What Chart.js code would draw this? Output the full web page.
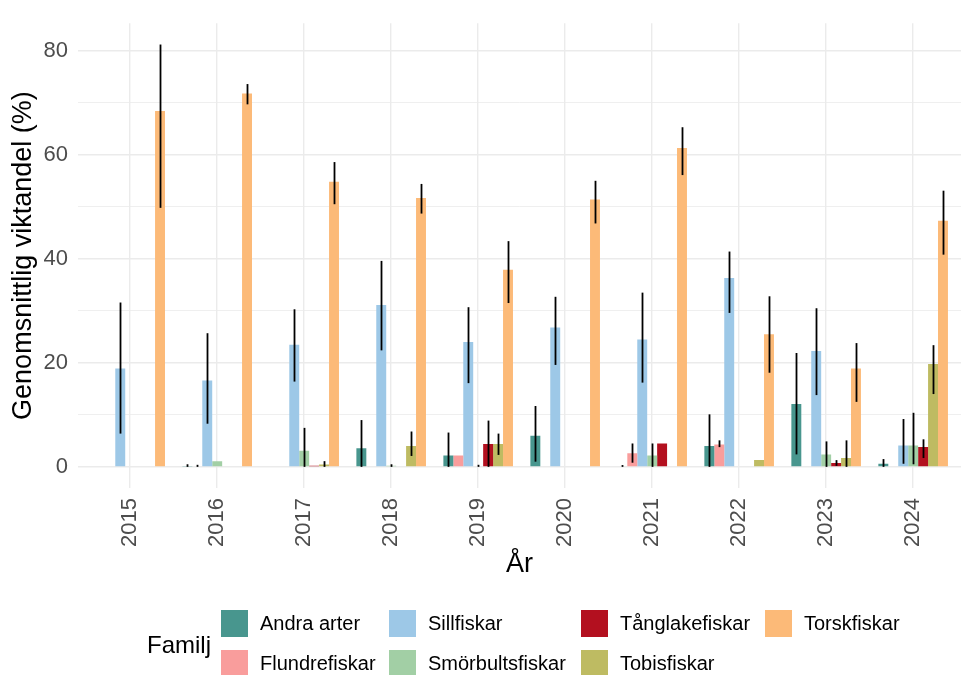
<!DOCTYPE html>
<html>
<head>
<meta charset="utf-8">
<script src="https://cdn.jsdelivr.net/npm/chart.js@4/dist/chart.umd.min.js"></script>
<style>
  html, body { margin: 0; padding: 0; background: #ffffff; }
  #wrap { position: relative; width: 961px; height: 675px; overflow: hidden;
          font-family: "Liberation Sans", Arial, sans-serif; }
  #chart { position: absolute; left: 0; top: 0; }
  #legend { position: absolute; left: 0; top: 0; width: 961px; height: 675px; pointer-events: none; }
  .lg-title { position: absolute; left: 147px; top: 645px; transform: translateY(-50%);
              font-size: 24px; color: #000; white-space: nowrap; }
  .lg-item { position: absolute; display: flex; align-items: center; white-space: nowrap; }
  .lg-box { width: 27px; height: 27px; margin-right: 12px; flex: none; }
  .lg-text { font-size: 20px; color: #000; }
</style>
</head>
<body>
<div id="wrap">
  <canvas id="chart" width="961" height="675"></canvas>
  <div id="legend"></div>
</div>
<script>
// Sampling years
const years = [2015, 2016, 2017, 2018, 2019, 2020, 2021, 2022, 2023, 2024];

// Fish families (legend order)
const families = ['Andra arter', 'Flundrefiskar', 'Sillfiskar', 'Smörbultsfiskar',
                  'Tånglakefiskar', 'Tobisfiskar', 'Torskfiskar'];
const familyColors = ['#48968E', '#F99D9C', '#9DC8E7', '#A2CFA5', '#B3101F', '#BEBB62', '#FCBA78'];

// Mean weight share (%) per year, with lower / upper error limits
const andraArter      = [null, 0.15, null, 3.6, 2.2, 6.0, 0.1, 4.0, 12.1, 0.6];
const andraArterLow   = [null, 0,    null, 0,   0,   1.0, 0,   0,   2.4,  0];
const andraArterHigh  = [null, 0.5,  null, 9.0, 6.6, 11.7, 0.35, 10.1, 21.9, 1.5];

const flundre         = [null, 0.1, null, null, 2.2, null, 2.6, 4.3, null, null];
const flundreLow      = [null, 0,   null, null, null, null, 0.8, 3.8, null, null];
const flundreHigh     = [null, 0.4, null, null, null, null, 4.5, 5.1, null, null];

const sill            = [18.9, 16.6, 23.5, 31.1, 24.0, 26.8, 24.5, 36.3, 22.3, 4.1];
const sillLow         = [6.4,  8.3,  16.4, 22.4, 16.1, 19.6, 16.2, 29.6, 13.8, 0.6];
const sillHigh        = [31.6, 25.7, 30.3, 39.6, 30.7, 32.7, 33.5, 41.4, 30.5, 9.2];

const smorbult        = [null, 1.1,  3.1, 0.2, 0.1, null, 2.2, null, 2.4, 4.1];
const smorbultLow     = [null, null, 0,   0,   0,   null, 0,   null, 0,   0.5];
const smorbultHigh    = [null, null, 7.5, 0.5, 0.4, null, 4.5, null, 4.9, 10.4];

const tanglake        = [null, null, 0.2, null, 4.4, null, 4.5, null, 0.75, 3.8];
const tanglakeLow     = [null, null, null, null, 0,   null, null, null, 0.2, 1.7];
const tanglakeHigh    = [null, null, null, null, 8.9, null, null, null, 1.3, 5.3];

const tobis           = [null, null, 0.45, 4.0, 4.4, null, null, 1.3, 1.7, 19.8];
const tobisLow        = [null, null, 0,    2.1, 2.3, null, null, null, 0,  14.0];
const tobisHigh       = [null, null, 1.1,  6.8, 6.4, null, null, null, 5.1, 23.4];

const torsk           = [68.4, 71.8, 54.8, 51.7, 37.9, 51.4, 61.3, 25.5, 18.9, 47.3];
const torskLow        = [49.8, 69.7, 50.5, 48.7, 31.5, 46.8, 56.1, 18.1, 12.5, 40.8];
const torskHigh       = [81.2, 73.6, 58.6, 54.4, 43.4, 55.0, 65.3, 32.8, 23.8, 53.1];

// Y axis ticks (labelled every 20, minor grid every 10)
const yTicks = [0, 10, 20, 30, 40, 50, 60, 70, 80];
const yLabelled = [0, 20, 40, 60, 80];

const seriesValues = [andraArter, flundre, sill, smorbult, tanglake, tobis, torsk];
const seriesLow    = [andraArterLow, flundreLow, sillLow, smorbultLow, tanglakeLow, tobisLow, torskLow];
const seriesHigh   = [andraArterHigh, flundreHigh, sillHigh, smorbultHigh, tanglakeHigh, tobisHigh, torskHigh];

const datasets = families.map((name, k) => ({
  label: name,
  data: years.map((yr, i) => ({ x: yr, y: seriesValues[k][i] })),
  errLow: seriesLow[k],
  errHigh: seriesHigh[k],
  backgroundColor: familyColors[k],
  borderWidth: 0,
  categoryPercentage: 0.8,
  barPercentage: 1.0
}));

// Vertical error lines drawn on top of the bars
const errorBars = {
  id: 'errorBars',
  afterDatasetsDraw(chart) {
    const ctx = chart.ctx;
    const yScale = chart.scales.y;
    chart.data.datasets.forEach((ds, di) => {
      const meta = chart.getDatasetMeta(di);
      meta.data.forEach((bar, i) => {
        const lo = ds.errLow[i], hi = ds.errHigh[i];
        if (lo == null || hi == null || ds.data[i].y == null) return;
        ctx.save();
        ctx.strokeStyle = '#000000';
        ctx.lineWidth = 1.8;
        ctx.beginPath();
        ctx.moveTo(Math.round(bar.x) + 0.5, yScale.getPixelForValue(lo));
        ctx.lineTo(Math.round(bar.x) + 0.5, yScale.getPixelForValue(hi));
        ctx.stroke();
        ctx.restore();
      });
    });
  }
};

// Legend laid out in columns (two rows), title on the left
const columnLegend = {
  id: 'columnLegend',
  afterRender(chart) {
    const box = document.getElementById('legend');
    if (box.childElementCount) return;
    const title = document.createElement('div');
    title.className = 'lg-title';
    title.textContent = 'Familj';
    box.appendChild(title);
    const colX = [221, 389, 581, 765];
    const rowY = [610, 650];
    chart.data.datasets.forEach((ds, k) => {
      const item = document.createElement('div');
      item.className = 'lg-item';
      item.style.left = colX[Math.floor(k / 2)] + 'px';
      item.style.top = rowY[k % 2] + 'px';
      const sw = document.createElement('div');
      sw.className = 'lg-box';
      sw.style.background = ds.backgroundColor;
      const tx = document.createElement('span');
      tx.className = 'lg-text';
      tx.textContent = ds.label;
      item.appendChild(sw);
      item.appendChild(tx);
      box.appendChild(item);
    });
  }
};

const fontFamily = '"Liberation Sans", Arial, sans-serif';

new Chart(document.getElementById('chart'), {
  type: 'bar',
  data: { datasets },
  plugins: [errorBars, columnLegend],
  options: {
    responsive: false,
    animation: false,
    devicePixelRatio: 1,
    layout: { padding: { top: 15, right: 0, bottom: 90, left: 0 } },
    plugins: { legend: { display: false }, tooltip: { enabled: false } },
    scales: {
      x: {
        type: 'linear',
        offset: false,
        min: 2014.4,
        max: 2024.55,
        afterBuildTicks(scale) { scale.ticks = years.map(v => ({ value: v })); },
        afterFit(scale) { scale.height = 97; },
        grid: { color: '#EBEBEB', lineWidth: 1.4, drawTicks: false, offset: false },
        border: { display: false },
        ticks: {
          autoSkip: false,
          minRotation: 90,
          maxRotation: 90,
          padding: 10,
          color: '#4D4D4D',
          font: { family: fontFamily, size: 22 },
          callback: (v) => String(v)
        },
        title: {
          display: true,
          text: 'År',
          color: '#000000',
          font: { family: fontFamily, size: 27 },
          padding: { top: 0, bottom: 4 }
        }
      },
      y: {
        min: -4.06,
        max: 85.3,
        afterBuildTicks(scale) { scale.ticks = yTicks.map(v => ({ value: v })); },
        afterFit(scale) { scale.width = 78; },
        grid: {
          color: '#EBEBEB',
          lineWidth: (c) => (c.tick && yLabelled.includes(c.tick.value)) ? 1.4 : 0.8,
          drawTicks: false
        },
        border: { display: false },
        ticks: {
          padding: 10,
          color: '#4D4D4D',
          font: { family: fontFamily, size: 22 },
          callback: (v) => yLabelled.includes(v) ? String(v) : ''
        },
        title: {
          display: true,
          text: 'Genomsnittlig viktandel (%)',
          color: '#000000',
          font: { family: fontFamily, size: 27 },
          padding: { top: 7, bottom: 0 }
        }
      }
    }
  }
});
</script>
</body>
</html>
